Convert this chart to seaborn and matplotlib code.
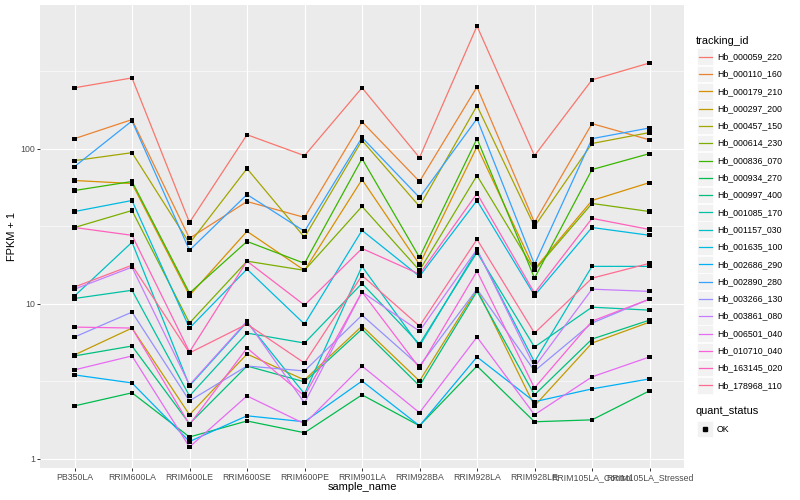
import numpy as np
import pandas as pd
import matplotlib
matplotlib.use("Agg")
import matplotlib.pyplot as plt
import seaborn as sns
from matplotlib.ticker import FixedLocator, NullFormatter
from matplotlib.patches import Rectangle

# ------------------------------
# data (FPKM + 1)
# ------------------------------
samples = ["PB350LA", "RRIM600LA", "RRIM600LE", "RRIM600SE", "RRIM600PE", "RRIM901LA",
           "RRIM928BA", "RRIM928LA", "RRIM928LE", "RRIM105LA_Control", "RRIM105LA_Stressed"]

tracking_ids = ["Hb_000059_220", "Hb_000110_160", "Hb_000179_210", "Hb_000297_200",
                "Hb_000457_150", "Hb_000614_230", "Hb_000836_070", "Hb_000934_270",
                "Hb_000997_400", "Hb_001085_170", "Hb_001157_030", "Hb_001635_100",
                "Hb_002686_290", "Hb_002890_280", "Hb_003266_130", "Hb_003861_080",
                "Hb_006501_040", "Hb_010710_040", "Hb_163145_020", "Hb_178968_110"]

hb_000059_220 = [247, 286, 33.4, 123, 90.1, 247, 87.5, 618, 90.1, 278, 357]
hb_000110_160 = [116, 154, 26.4, 45.6, 36.0, 149, 61.4, 250, 33.4, 145, 114]
hb_000179_210 = [62.3, 59.6, 11.3, 29.3, 16.4, 63.2, 17.9, 103, 16.7, 46.3, 60.4]
hb_000297_200 = [4.67, 6.96, 1.92, 4.73, 3.22, 7.17, 3.17, 12.4, 2.19, 5.57, 7.60]
hb_000457_150 = [83.7, 94.2, 24.5, 74.4, 26.8, 113, 42.4, 189, 31.5, 108, 127]
hb_000614_230 = [31.0, 39.9, 7.50, 18.8, 16.4, 42.4, 16.4, 67.0, 16.4, 44.3, 39.3]
hb_000836_070 = [53.7, 61.4, 11.7, 25.2, 18.2, 86.2, 19.9, 116, 14.6, 73.3, 92.9]
hb_000934_270 = [2.19, 2.66, 1.38, 1.75, 1.47, 2.58, 1.63, 3.96, 1.73, 1.78, 2.74]
hb_000997_400 = [4.60, 5.33, 1.68, 3.96, 3.13, 6.85, 2.95, 12.0, 2.58, 5.91, 7.83]
hb_001085_170 = [10.8, 12.2, 2.54, 6.46, 5.57, 13.5, 5.49, 21.4, 5.25, 9.49, 9.08]
hb_001157_030 = [11.2, 24.9, 2.95, 7.60, 2.62, 17.4, 5.33, 22.1, 4.21, 17.4, 17.4]
hb_001635_100 = [39.3, 46.3, 6.96, 16.7, 7.38, 29.7, 15.0, 46.3, 11.3, 31.0, 27.6]
hb_002686_290 = [3.47, 3.08, 1.29, 1.89, 1.73, 3.17, 1.63, 4.53, 2.33, 2.82, 3.27]
hb_002890_280 = [76.6, 151, 22.1, 50.6, 29.3, 118, 48.4, 156, 17.9, 116, 136]
hb_003266_130 = [6.09, 8.82, 2.36, 3.96, 3.68, 8.43, 3.96, 12.4, 3.68, 7.50, 10.7]
hb_003861_080 = [12.4, 17.2, 2.99, 7.71, 2.29, 11.9, 6.65, 22.4, 3.91, 12.4, 12.0]
hb_006501_040 = [3.74, 4.60, 1.19, 2.54, 1.68, 3.96, 1.98, 6.09, 1.92, 3.37, 4.53]
hb_010710_040 = [7.06, 6.96, 1.66, 5.17, 2.54, 11.9, 3.85, 16.2, 2.86, 7.71, 10.7]
hb_163145_020 = [31.0, 27.6, 4.88, 18.8, 9.78, 22.7, 15.5, 51.4, 11.7, 35.5, 30.1]
hb_178968_110 = [12.8, 17.7, 4.81, 7.38, 4.14, 15.2, 7.17, 26.0, 6.46, 14.6, 18.2]

series = [hb_000059_220, hb_000110_160, hb_000179_210, hb_000297_200, hb_000457_150,
          hb_000614_230, hb_000836_070, hb_000934_270, hb_000997_400, hb_001085_170,
          hb_001157_030, hb_001635_100, hb_002686_290, hb_002890_280, hb_003266_130,
          hb_003861_080, hb_006501_040, hb_010710_040, hb_163145_020, hb_178968_110]

# ggplot default hue palette for 20 levels
palette = ["#F8766D", "#EA8331", "#D89000", "#C09B00", "#A3A500", "#7CAE00", "#39B600",
           "#00BB4E", "#00BF7D", "#00C1A3", "#00BFC4", "#00BAE0", "#00B0F6", "#35A2FF",
           "#9590FF", "#C77CFF", "#E76BF3", "#FA62DB", "#FF62BC", "#FF6C91"]

rows = []
for tid, vals in zip(tracking_ids, series):
    for i, (s, v) in enumerate(zip(samples, vals)):
        rows.append({"tracking_id": tid, "sample_name": s, "pos": i, "fpkm": v})
df = pd.DataFrame(rows)

# ------------------------------
# plot
# ------------------------------
plt.rcParams['font.family'] = ['Liberation Sans', 'DejaVu Sans']
fig = plt.figure(figsize=(8, 5), dpi=100)
ax = fig.add_axes([40 / 800, 32 / 500, 644 / 800, 463 / 500])
ax.set_facecolor("#EBEBEB")

sns.lineplot(data=df, x="pos", y="fpkm", hue="tracking_id", hue_order=tracking_ids,
             palette=palette, lw=0.9, legend=False, ax=ax, zorder=3)
sns.scatterplot(data=df, x="pos", y="fpkm", color="black", marker="s", s=9,
                edgecolor="none", legend=False, ax=ax, zorder=4)

ax.set_yscale("log")
lo, hi = np.log10(df["fpkm"].min()), np.log10(df["fpkm"].max())
pad = 0.05 * (hi - lo)
ax.set_ylim(10 ** (lo - pad), 10 ** (hi + pad))
ax.set_xlim(-0.6, len(samples) - 0.4)

ax.yaxis.set_major_locator(FixedLocator([1, 10, 100]))
ax.set_yticklabels(["1", "10", "100"])
ax.yaxis.set_minor_locator(FixedLocator([10 ** 0.5, 10 ** 1.5, 10 ** 2.5]))
ax.yaxis.set_minor_formatter(NullFormatter())
ax.set_xticks(range(len(samples)))
ax.set_xticklabels(samples)

ax.grid(which="major", color="white", lw=0.8, zorder=0)
ax.grid(which="minor", axis="y", color="white", lw=0.4, zorder=0)
ax.set_axisbelow(True)
for sp in ax.spines.values():
    sp.set_visible(False)
ax.tick_params(which="major", length=2, width=0.7, color="#333333",
               labelcolor="#4D4D4D", labelsize=6.3, pad=1.5)
ax.tick_params(which="minor", length=0)

ax.set_xlabel("sample_name", fontsize=7.9, color="black")
ax.set_ylabel("FPKM + 1", fontsize=7.9, color="black")
ax.xaxis.set_label_coords(0.5, -0.030)
ax.yaxis.set_label_coords(-0.036, 0.5)

# ------------------------------
# legends (drawn in figure pixel space)
# ------------------------------
leg = fig.add_axes([0, 0, 1, 1], facecolor="none")
leg.set_xlim(0, 800)
leg.set_ylim(500, 0)
leg.axis("off")

leg.text(696, 40.5, "tracking_id", va="center", ha="left", fontsize=7.9)
for i, (tid, c) in enumerate(zip(tracking_ids, palette)):
    yc = 56.7 + 17.3 * i
    leg.add_patch(Rectangle((697, yc - 8.3), 16.4, 16.6, facecolor="#F2F2F2",
                            edgecolor="white", lw=0.5))
    leg.plot([698.5, 711.5], [yc, yc], color=c, lw=0.9)
    leg.text(717, yc, tid, va="center", ha="left", fontsize=6.3)

leg.text(696, 411.5, "quant_status", va="center", ha="left", fontsize=7.9)
leg.add_patch(Rectangle((697, 429 - 8.3), 16.4, 16.6, facecolor="#F2F2F2",
                        edgecolor="white", lw=0.5))
leg.plot([705], [429], marker="s", ms=3, color="black", ls="none")
leg.text(717, 429, "OK", va="center", ha="left", fontsize=6.3)

fig.savefig("out.png", dpi=100, facecolor="white")
